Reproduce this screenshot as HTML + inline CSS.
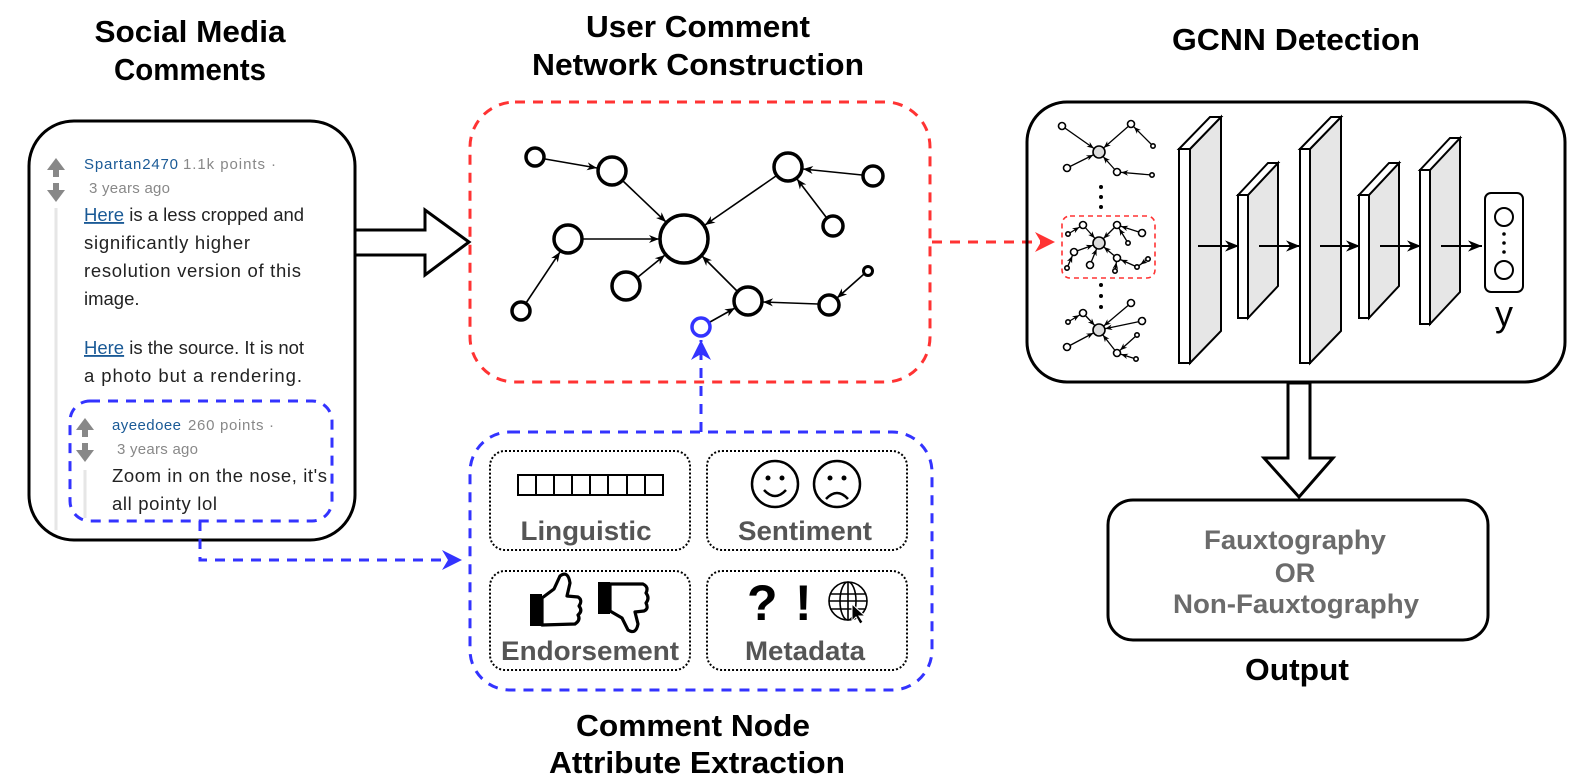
<!DOCTYPE html>
<html><head><meta charset="utf-8"><style>
html,body{margin:0;padding:0;background:#fff;}
svg{display:block;font-family:"Liberation Sans",Arial,sans-serif;}
</style></head><body>
<svg width="1570" height="784" viewBox="0 0 1570 784" xmlns="http://www.w3.org/2000/svg">
<defs>
<marker id="ab" markerUnits="userSpaceOnUse" viewBox="0 0 10 10" refX="10" refY="5" markerWidth="10" markerHeight="10" orient="auto"><path d="M0,1 L10,5 L0,9 L3,5 Z" fill="#000"/></marker>
<marker id="ab2" markerUnits="userSpaceOnUse" viewBox="0 0 10 10" refX="10" refY="5" markerWidth="14" markerHeight="14" orient="auto"><path d="M0,1 L10,5 L0,9 L3,5 Z" fill="#000"/></marker>
<marker id="m6" markerUnits="userSpaceOnUse" viewBox="0 0 10 10" refX="19" refY="5" markerWidth="7" markerHeight="7" orient="auto"><path d="M0,1 L10,5 L0,9 L3,5 Z" fill="#000"/></marker>
<marker id="m4" markerUnits="userSpaceOnUse" viewBox="0 0 10 10" refX="16" refY="5" markerWidth="7" markerHeight="7" orient="auto"><path d="M0,1 L10,5 L0,9 L3,5 Z" fill="#000"/></marker>
<marker id="ar" markerUnits="userSpaceOnUse" viewBox="0 0 10 10" refX="10" refY="5" markerWidth="20" markerHeight="20" orient="auto"><path d="M0,0 L10,5 L0,10 L3,5 Z" fill="#ff3333"/></marker>
<marker id="abl" markerUnits="userSpaceOnUse" viewBox="0 0 10 10" refX="10" refY="5" markerWidth="20" markerHeight="20" orient="auto"><path d="M0,0 L10,5 L0,10 L3,5 Z" fill="#3333ff"/></marker>
</defs>

<!-- Titles -->
<g font-weight="bold" font-size="31" text-anchor="middle" fill="#000">
<text x="190" y="42" textLength="191" lengthAdjust="spacingAndGlyphs">Social Media</text>
<text x="190" y="80" textLength="152" lengthAdjust="spacingAndGlyphs">Comments</text>
<text x="698" y="37" textLength="224" lengthAdjust="spacingAndGlyphs">User Comment</text>
<text x="698" y="75" textLength="332" lengthAdjust="spacingAndGlyphs">Network Construction</text>
<text x="1296" y="50" textLength="248" lengthAdjust="spacingAndGlyphs">GCNN Detection</text>
<text x="693" y="736" textLength="234" lengthAdjust="spacingAndGlyphs">Comment Node</text>
<text x="697" y="773" textLength="296" lengthAdjust="spacingAndGlyphs">Attribute Extraction</text>
<text x="1297" y="680" textLength="104" lengthAdjust="spacingAndGlyphs">Output</text>
</g>

<!-- Left comment box -->
<rect x="29" y="121" width="326" height="419" rx="45" fill="#fff" stroke="#000" stroke-width="3"/>
<line x1="56" y1="208" x2="56" y2="530" stroke="#e6e6e6" stroke-width="3"/>
<line x1="85" y1="470" x2="85" y2="518" stroke="#e6e6e6" stroke-width="3"/>
<g fill="#888">
<path d="M47,170 L56,158 L65,170 L59,170 L59,177 L53,177 L53,170 Z"/>
<path d="M47,190 L56,202 L65,190 L59,190 L59,183 L53,183 L53,190 Z"/>
<path d="M76,430 L85,418 L94,430 L88,430 L88,437 L82,437 L82,430 Z"/>
<path d="M76,450 L85,462 L94,450 L88,450 L88,443 L82,443 L82,450 Z"/>
</g>
<g font-size="15">
<text x="84" y="169" fill="#1a5a96" textLength="94">Spartan2470</text>
<text x="183" y="169" fill="#888" textLength="93">1.1k points ·</text>
<text x="89" y="193" fill="#888" textLength="81">3 years ago</text>
<text x="112" y="430" fill="#1a5a96" textLength="69">ayeedoee</text>
<text x="188" y="430" fill="#888" textLength="86">260 points ·</text>
<text x="117" y="454" fill="#888" textLength="81">3 years ago</text>
</g>
<g font-size="18.5" fill="#222">
<text x="84" y="221"><tspan fill="#1a5a96" text-decoration="underline">Here</tspan> is a less cropped and</text>
<text x="84" y="249" textLength="166">significantly higher</text>
<text x="84" y="277" textLength="217">resolution version of this</text>
<text x="84" y="305">image.</text>
<text x="84" y="354"><tspan fill="#1a5a96" text-decoration="underline">Here</tspan> is the source. It is not</text>
<text x="84" y="382" textLength="218">a photo but a rendering.</text>
<text x="112" y="482" textLength="215">Zoom in on the nose, it's</text>
<text x="112" y="510" textLength="105">all pointy lol</text>
</g>
<rect x="70" y="401" width="262" height="120" rx="20" fill="none" stroke="#3333ff" stroke-width="3" stroke-dasharray="10,8"/>

<!-- hollow arrow right -->
<path d="M355,230 L425,230 L425,210 L469,242 L425,275 L425,255 L355,255 Z" fill="#fff" stroke="#000" stroke-width="3"/>

<!-- blue connector from comment -->
<path d="M200,521 L200,560 L462,560" fill="none" stroke="#3333ff" stroke-width="3" stroke-dasharray="10,8" marker-end="url(#abl)"/>

<!-- Red network box -->
<rect x="470" y="102" width="460" height="280" rx="45" fill="none" stroke="#ff3333" stroke-width="3" stroke-dasharray="10,8"/>
<g stroke="#000" stroke-width="1.6" marker-end="url(#ab)">
<line x1="545" y1="159" x2="597" y2="168"/>
<line x1="623" y1="181" x2="666" y2="222"/>
<line x1="776" y1="176" x2="705" y2="225"/>
<line x1="862" y1="175" x2="803" y2="169"/>
<line x1="826" y1="217" x2="797" y2="179"/>
<line x1="583" y1="239" x2="659" y2="239"/>
<line x1="526" y1="303" x2="560" y2="252"/>
<line x1="638" y1="277" x2="665" y2="255"/>
<line x1="737" y1="291" x2="702" y2="256"/>
<line x1="818" y1="304" x2="763" y2="302"/>
<line x1="864" y1="274" x2="837" y2="298"/>
<line x1="710" y1="322" x2="735" y2="308"/>
</g>
<g fill="#fff" stroke="#000" stroke-width="3.5">
<circle cx="535" cy="157" r="9"/>
<circle cx="612" cy="171" r="14"/>
<circle cx="684" cy="239" r="24"/>
<circle cx="788" cy="167" r="14"/>
<circle cx="873" cy="176" r="10"/>
<circle cx="833" cy="226" r="10"/>
<circle cx="568" cy="239" r="14"/>
<circle cx="626" cy="286" r="14"/>
<circle cx="748" cy="301" r="14"/>
<circle cx="829" cy="305" r="10"/>
<circle cx="868" cy="271" r="4.5" stroke-width="3"/>
<circle cx="521" cy="311" r="9"/>
<circle cx="701" cy="327" r="9" stroke="#3333ff"/>
</g>

<!-- blue vertical connector -->
<line x1="701" y1="432" x2="701" y2="340" stroke="#3333ff" stroke-width="3" stroke-dasharray="10,8" marker-end="url(#abl)"/>

<!-- Blue attribute box -->
<rect x="470" y="432" width="462" height="258" rx="40" fill="none" stroke="#3333ff" stroke-width="3" stroke-dasharray="10,8"/>
<g fill="none" stroke="#000" stroke-width="2" stroke-dasharray="2,2">
<rect x="490" y="451" width="200" height="99" rx="15"/>
<rect x="707" y="451" width="200" height="99" rx="15"/>
<rect x="490" y="571" width="200" height="99" rx="15"/>
<rect x="707" y="571" width="200" height="99" rx="15"/>
</g>
<g font-weight="bold" font-size="27" fill="#555" text-anchor="middle">
<text x="586" y="540" textLength="131" lengthAdjust="spacingAndGlyphs">Linguistic</text>
<text x="805" y="540" textLength="134" lengthAdjust="spacingAndGlyphs">Sentiment</text>
<text x="590" y="660" textLength="178" lengthAdjust="spacingAndGlyphs">Endorsement</text>
<text x="805" y="660" textLength="120" lengthAdjust="spacingAndGlyphs">Metadata</text>
</g>
<!-- linguistic boxes -->
<g fill="#fff" stroke="#000" stroke-width="2">
<rect x="518" y="475" width="145" height="20"/>
<line x1="536" y1="475" x2="536" y2="495"/><line x1="554" y1="475" x2="554" y2="495"/>
<line x1="572" y1="475" x2="572" y2="495"/><line x1="590" y1="475" x2="590" y2="495"/>
<line x1="608" y1="475" x2="608" y2="495"/><line x1="627" y1="475" x2="627" y2="495"/>
<line x1="645" y1="475" x2="645" y2="495"/>
</g>
<!-- faces -->
<g fill="none" stroke="#000" stroke-width="2.5">
<circle cx="775" cy="484" r="23"/>
<circle cx="837" cy="484" r="23"/>
<path d="M764,490 Q775,502 786,490"/>
<path d="M826,499 Q837,487 848,499"/>
</g>
<g fill="#000"><circle cx="768" cy="478" r="2.5"/><circle cx="782" cy="478" r="2.5"/><circle cx="830" cy="478" r="2.5"/><circle cx="844" cy="478" r="2.5"/></g>
<!-- thumbs -->
<rect x="530" y="594" width="12" height="32" fill="#000"/>
<path d="M542,598 L554,589 L560,576 Q568,570 570,583 L567,596 L578,597 Q583,600 579,606 Q583,611 578,615 Q581,620 575,624 L542,625 Z" fill="#fff" stroke="#000" stroke-width="3.2" stroke-linejoin="round"/>
<rect x="598" y="582" width="12" height="32" fill="#000"/>
<path d="M610,584 L643,584 Q649,587 646,593 Q650,598 646,603 Q649,609 644,611 L635,612 L638,624 Q636,635 628,630 L622,618 L610,611 Z" fill="#fff" stroke="#000" stroke-width="3.2" stroke-linejoin="round"/>
<!-- metadata -->
<text x="747" y="620" font-size="50" font-weight="bold" fill="#000">?</text>
<text x="795" y="620" font-size="50" font-weight="bold" fill="#000">!</text>
<g fill="none" stroke="#000" stroke-width="1.6">
<circle cx="848" cy="601" r="19"/>
<ellipse cx="848" cy="601" rx="8" ry="19"/>
<line x1="848" y1="582" x2="848" y2="620"/>
<line x1="830" y1="594" x2="866" y2="594"/>
<line x1="829" y1="601" x2="867" y2="601"/>
<line x1="830" y1="609" x2="866" y2="609"/>
</g>
<path d="M852,604 L852,621 L856,617 L860,624 L863,622 L859,616 L865,616 Z" fill="#000" stroke="#fff" stroke-width="1"/>

<!-- red arrow to GCNN -->
<line x1="932" y1="242" x2="1055" y2="242" stroke="#ff3333" stroke-width="3" stroke-dasharray="10,8" marker-end="url(#ar)"/>

<!-- GCNN box -->
<rect x="1027" y="102" width="538" height="280" rx="40" fill="none" stroke="#000" stroke-width="3"/>

<!-- mini graphs -->
<rect x="1062" y="216" width="93" height="62" rx="8" fill="none" stroke="#ff3333" stroke-width="1.6" stroke-dasharray="5,4"/>
<g stroke="#000" stroke-width="1.3">
<line x1="1062" y1="126" x2="1099" y2="152" marker-end="url(#m6)"/>
<line x1="1131" y1="124" x2="1099" y2="152" marker-end="url(#m6)"/>
<line x1="1153" y1="146" x2="1131" y2="124" marker-end="url(#m4)"/>
<line x1="1067" y1="168" x2="1099" y2="152" marker-end="url(#m6)"/>
<line x1="1117" y1="172" x2="1099" y2="152" marker-end="url(#m6)"/>
<line x1="1152" y1="175" x2="1117" y2="172" marker-end="url(#m4)"/>

<line x1="1083" y1="225" x2="1099" y2="243" marker-end="url(#m6)"/>
<line x1="1068" y1="234" x2="1083" y2="225" marker-end="url(#m4)"/>
<line x1="1117" y1="225" x2="1099" y2="243" marker-end="url(#m6)"/>
<line x1="1142" y1="233" x2="1117" y2="225" marker-end="url(#m4)"/>
<line x1="1128" y1="243" x2="1117" y2="225" marker-end="url(#m4)"/>
<line x1="1074" y1="252" x2="1099" y2="243" marker-end="url(#m6)"/>
<line x1="1067" y1="268" x2="1074" y2="252" marker-end="url(#m4)"/>
<line x1="1090" y1="265" x2="1099" y2="243" marker-end="url(#m6)"/>
<line x1="1117" y1="258" x2="1099" y2="243" marker-end="url(#m6)"/>
<line x1="1115" y1="271" x2="1117" y2="258" marker-end="url(#m4)"/>
<line x1="1137" y1="267" x2="1117" y2="258" marker-end="url(#m4)"/>
<line x1="1148" y1="259" x2="1137" y2="267" marker-end="url(#m4)"/>

<line x1="1083" y1="313" x2="1099" y2="330" marker-end="url(#m6)"/>
<line x1="1068" y1="322" x2="1083" y2="313" marker-end="url(#m4)"/>
<line x1="1131" y1="303" x2="1099" y2="330" marker-end="url(#m6)"/>
<line x1="1142" y1="321" x2="1099" y2="330" marker-end="url(#m6)"/>
<line x1="1067" y1="347" x2="1099" y2="330" marker-end="url(#m6)"/>
<line x1="1117" y1="353" x2="1099" y2="330" marker-end="url(#m6)"/>
<line x1="1137" y1="335" x2="1117" y2="353" marker-end="url(#m4)"/>
<line x1="1136" y1="359" x2="1117" y2="353" marker-end="url(#m4)"/>
</g>
<g fill="#fff" stroke="#000" stroke-width="1.6">
<circle cx="1099" cy="152" r="6" fill="#ddd"/>
<circle cx="1062" cy="126" r="3.5"/><circle cx="1131" cy="124" r="3.5"/><circle cx="1153" cy="146" r="2.2"/>
<circle cx="1067" cy="168" r="3.5"/><circle cx="1117" cy="172" r="3.5"/><circle cx="1152" cy="175" r="2.2"/>
<circle cx="1099" cy="243" r="6" fill="#ddd"/>
<circle cx="1083" cy="225" r="3.5"/><circle cx="1068" cy="234" r="2.2"/><circle cx="1117" cy="225" r="3.5"/>
<circle cx="1142" cy="233" r="3.5"/><circle cx="1128" cy="243" r="2.2"/><circle cx="1074" cy="252" r="3.5"/>
<circle cx="1067" cy="268" r="2.2"/><circle cx="1090" cy="265" r="3.5"/><circle cx="1117" cy="258" r="3.5"/>
<circle cx="1115" cy="271" r="2.2"/><circle cx="1137" cy="267" r="2.2"/><circle cx="1148" cy="259" r="2.2"/>
<circle cx="1099" cy="330" r="6" fill="#ddd"/>
<circle cx="1083" cy="313" r="3.5"/><circle cx="1068" cy="322" r="2.2"/><circle cx="1131" cy="303" r="3.5"/>
<circle cx="1142" cy="321" r="3.5"/><circle cx="1067" cy="347" r="3.5"/><circle cx="1117" cy="353" r="3.5"/>
<circle cx="1137" cy="335" r="2.2"/><circle cx="1136" cy="359" r="2.2"/>
</g>
<g fill="#000">
<circle cx="1101" cy="187" r="2"/><circle cx="1101" cy="197" r="2"/><circle cx="1101" cy="207" r="2"/>
<circle cx="1101" cy="285" r="2"/><circle cx="1101" cy="296" r="2"/><circle cx="1101" cy="307" r="2"/>
</g>

<!-- layers -->
<g stroke="#000" stroke-width="2" stroke-linejoin="miter">
<polygon points="1190,149 1221,117 1221,331 1190,363" fill="#e6e6e6"/>
<polygon points="1179,149 1210,117 1221,117 1190,149" fill="#fff"/>
<rect x="1179" y="149" width="11" height="214" fill="#fff"/>

<polygon points="1248,195 1278,163 1278,286 1248,318" fill="#e6e6e6"/>
<polygon points="1238,195 1268,163 1278,163 1248,195" fill="#fff"/>
<rect x="1238" y="195" width="10" height="123" fill="#fff"/>

<polygon points="1310,149 1341,117 1341,331 1310,363" fill="#e6e6e6"/>
<polygon points="1300,149 1331,117 1341,117 1310,149" fill="#fff"/>
<rect x="1300" y="149" width="10" height="214" fill="#fff"/>

<polygon points="1369,195 1399,163 1399,286 1369,318" fill="#e6e6e6"/>
<polygon points="1359,195 1389,163 1399,163 1369,195" fill="#fff"/>
<rect x="1359" y="195" width="10" height="123" fill="#fff"/>

<polygon points="1430,170 1460,138 1460,292 1430,324" fill="#e6e6e6"/>
<polygon points="1420,170 1450,138 1460,138 1430,170" fill="#fff"/>
<rect x="1420" y="170" width="10" height="154" fill="#fff"/>
</g>
<g stroke="#000" stroke-width="2" marker-end="url(#ab2)">
<line x1="1198" y1="246" x2="1239" y2="246"/>
<line x1="1259" y1="246" x2="1300" y2="246"/>
<line x1="1320" y1="246" x2="1360" y2="246"/>
<line x1="1380" y1="246" x2="1421" y2="246"/>
<line x1="1441" y1="246" x2="1482" y2="246"/>
</g>
<rect x="1485" y="193" width="38" height="99" rx="6" fill="#fff" stroke="#000" stroke-width="2"/>
<circle cx="1504" cy="217" r="9" fill="none" stroke="#000" stroke-width="2"/>
<circle cx="1504" cy="270" r="9" fill="none" stroke="#000" stroke-width="2"/>
<circle cx="1504" cy="234" r="1.8"/><circle cx="1504" cy="243" r="1.8"/><circle cx="1504" cy="252" r="1.8"/>
<text x="1504" y="326" font-size="36" text-anchor="middle">y</text>

<!-- down arrow -->
<path d="M1288,383 L1310,383 L1310,458 L1333,458 L1299,497 L1264,458 L1288,458 Z" fill="#fff" stroke="#000" stroke-width="3"/>

<!-- Output box -->
<rect x="1108" y="500" width="380" height="140" rx="25" fill="#fff" stroke="#000" stroke-width="3"/>
<g font-weight="bold" font-size="27" fill="#6b6b6b" text-anchor="middle">
<text x="1295" y="549" textLength="182" lengthAdjust="spacingAndGlyphs">Fauxtography</text>
<text x="1295" y="582">OR</text>
<text x="1296" y="613" textLength="246" lengthAdjust="spacingAndGlyphs">Non-Fauxtography</text>
</g>
</svg>
</body></html>
